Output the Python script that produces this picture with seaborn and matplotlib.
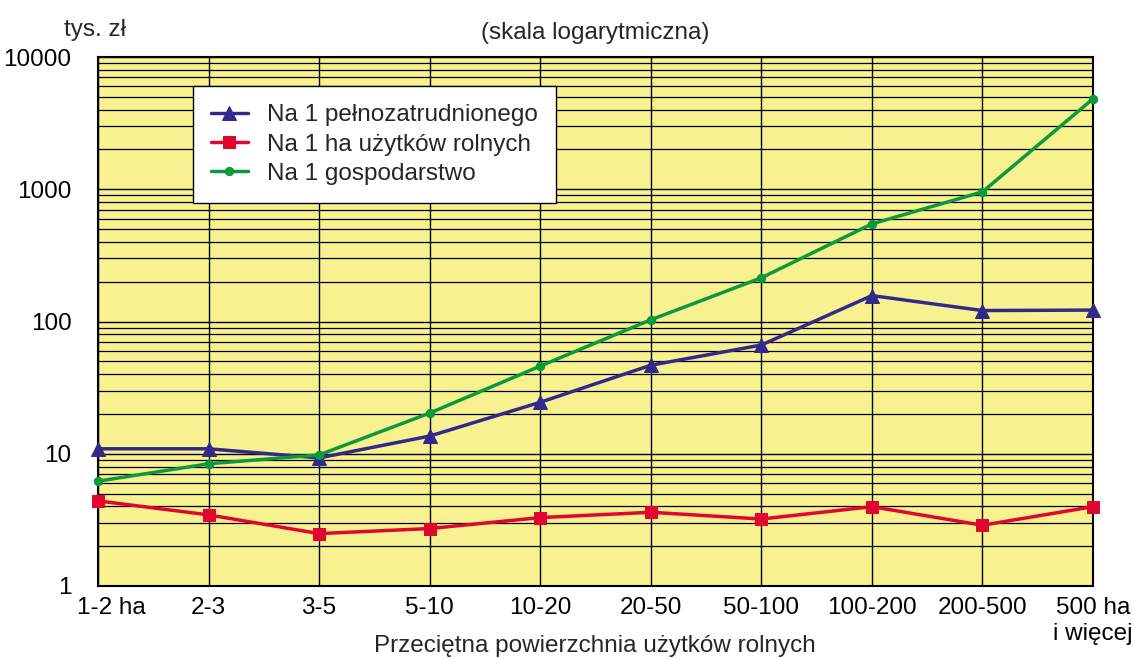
import matplotlib
matplotlib.use("Agg")
import matplotlib.pyplot as plt
import matplotlib.ticker as mticker
import matplotlib.transforms as mtransforms
import seaborn as sns
import pandas as pd

# ---- data ----
categories = ["1-2 ha", "2-3", "3-5", "5-10", "10-20", "20-50",
              "50-100", "100-200", "200-500", "500 ha\ni więcej"]
series_names = ["Na 1 pełnozatrudnionego", "Na 1 ha użytków rolnych", "Na 1 gospodarstwo"]
per_worker = [10.9, 10.9, 9.3, 13.6, 24.5, 46.7, 66.4, 157, 121, 122]
per_ha = [4.4, 3.45, 2.49, 2.72, 3.29, 3.61, 3.21, 3.98, 2.88, 3.98]
per_farm = [6.2, 8.4, 9.8, 20.3, 46, 103, 214, 547, 955, 4830]
y_ticks = [1, 10, 100, 1000, 10000]
y_tick_labels = ["1", "10", "100", "1000", "10000"]

colors = ["#33288C", "#E0062F", "#0A9A3C"]
markers = ["^", "s", "o"]
msizes = [9.5, 8.5, 6]

FS = 17.5

sns.set_theme(style="white")
plt.rcParams["font.family"] = ["Liberation Sans", "DejaVu Sans"]

fig = plt.figure(figsize=(11.34, 6.59), dpi=100)
ax = fig.add_axes([98 / 1134, 1 - 586 / 659, (1093 - 98) / 1134, (586 - 57) / 659])
ax.set_facecolor("#F8F190")

pos = list(range(len(categories)))
all_values = [per_worker, per_ha, per_farm]
for name, vals, c, m, ms in zip(series_names, all_values, colors, markers, msizes):
    df = pd.DataFrame({"pos": pos, "value": vals})
    sns.lineplot(data=df, x="pos", y="value", ax=ax, color=c, linewidth=2.5,
                 marker=m, markersize=ms, markeredgecolor=c, markerfacecolor=c,
                 clip_on=False, label=name, zorder=5)

ax.set_yscale("log")
ax.set_ylim(1, 10000)
ax.set_xlim(0, len(categories) - 1)

ax.yaxis.set_major_locator(mticker.FixedLocator(y_ticks))
ax.yaxis.set_major_formatter(mticker.FixedFormatter(y_tick_labels))
ax.yaxis.set_minor_locator(mticker.LogLocator(base=10, subs=range(2, 10)))
ax.yaxis.set_minor_formatter(mticker.NullFormatter())
ax.set_xticks(pos)
ax.set_xticklabels(categories)

ax.grid(True, which="major", axis="both", color="black", linewidth=1.0)
ax.grid(True, which="minor", axis="y", color="black", linewidth=0.9)
ax.set_axisbelow(True)

ax.tick_params(axis="x", which="both", length=0, pad=8, labelsize=FS, colors="black")
ax.tick_params(axis="y", which="both", length=0, pad=19, labelsize=FS, colors="black")
for s in ax.spines.values():
    s.set_color("black")
    s.set_linewidth(1.5)

# first category label sits a little to the right of its grid line
first = ax.get_xticklabels()[0]
first.set_transform(first.get_transform() +
                    mtransforms.ScaledTranslation(13 / 100, 0, fig.dpi_scale_trans))

ax.set_xlabel("")
ax.set_ylabel("")

leg = ax.legend(loc="upper left", bbox_to_anchor=(0.0955, 0.945), fontsize=FS,
                frameon=True, fancybox=False, edgecolor="black", facecolor="white",
                framealpha=1, handlelength=1.5, labelspacing=0.3, borderpad=0.75,
                handletextpad=0.8, borderaxespad=0)
leg.get_frame().set_linewidth(1.0)

fig.text(95 / 1134, 1 - 30 / 659, "tys. zł", ha="center", va="center", fontsize=FS)
fig.text(595 / 1134, 1 - 33 / 659, "(skala logarytmiczna)", ha="center", va="center", fontsize=FS)
fig.text(595 / 1134, 1 - 646 / 659, "Przeciętna powierzchnia użytków rolnych",
         ha="center", va="center", fontsize=FS)

fig.savefig("out.png", dpi=100, facecolor="white")
